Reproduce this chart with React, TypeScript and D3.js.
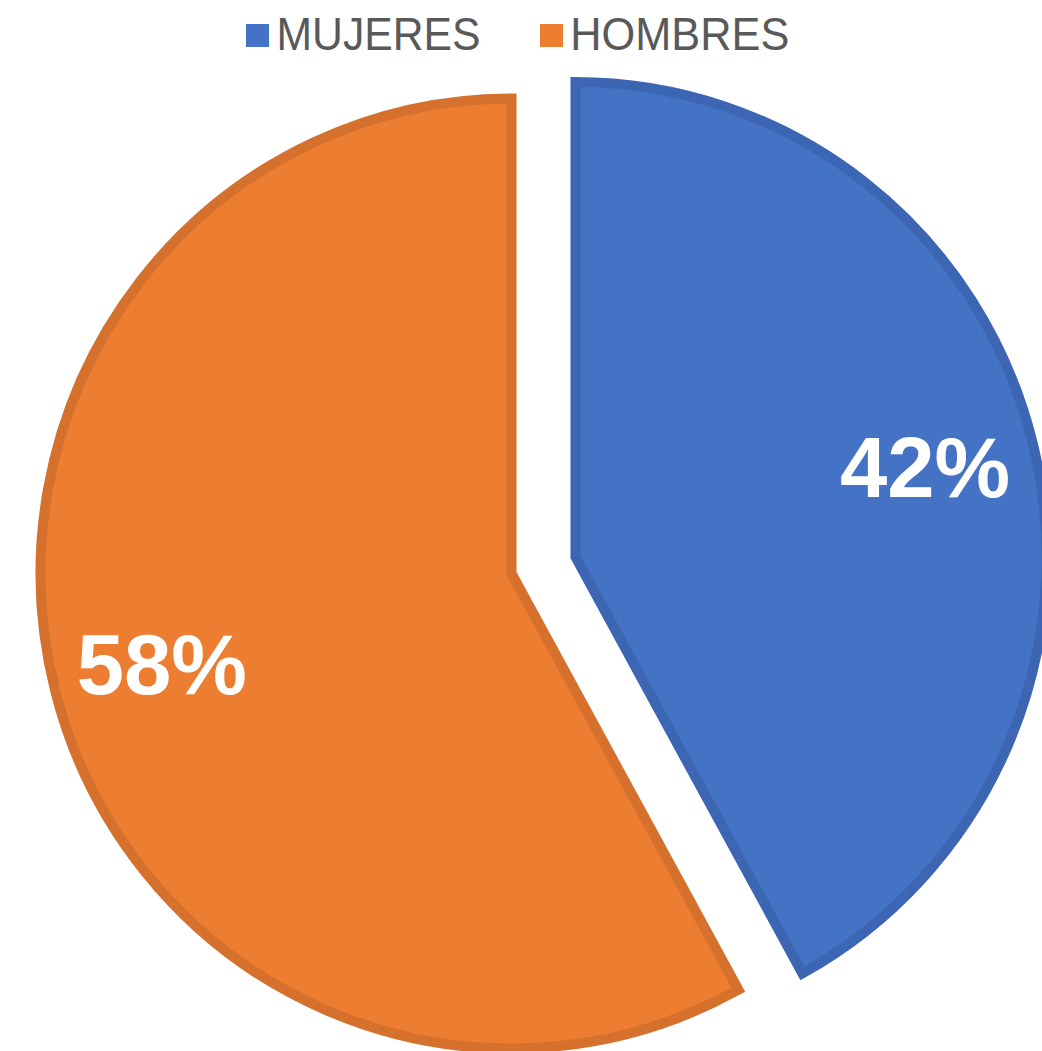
import React from 'react';
import * as d3 from 'd3';

const categories: string[] = ['MUJERES', 'HOMBRES'];
const values: number[] = [42, 58];
const valueLabels: string[] = ['42%', '58%'];
const fillColors: string[] = ['#4472C4', '#ED7D31'];
const strokeColors: string[] = ['#3C66B3', '#D5712C'];

const W = 1042;
const H = 1051;
const CX = 543.5;
const CY = 565.25;
const RX = 471;
const RY = 475;
const EXPLODE = 33;
const LABEL_R = 361;
const FONT = "Arial, 'Liberation Sans', Helvetica, sans-serif";

const legendItems = [
  { sx: 246, tx: 276.5, len: 204 },
  { sx: 540, tx: 570.3, len: 219 },
];

export default function App() {
  const pie = d3.pie<number>().sort(null).value((d) => d);
  const arcs = pie(values);
  const arcGen = d3.arc<d3.PieArcDatum<number>>().innerRadius(0).outerRadius(RX);
  const labelArc = d3
    .arc<d3.PieArcDatum<number>>()
    .innerRadius(LABEL_R)
    .outerRadius(LABEL_R);
  const ky = RY / RX;

  return (
    <svg
      width={W}
      height={H}
      viewBox={`0 0 ${W} ${H}`}
      style={{ position: 'absolute', left: 0, top: 0, background: '#fff' }}
    >
      <rect x={0} y={0} width={W} height={H} fill="#fff" />
      {arcs.map((a, i) => {
        const mid = (a.startAngle + a.endAngle) / 2;
        const cx = CX + EXPLODE * Math.sin(mid);
        const cy = CY - EXPLODE * Math.cos(mid);
        return (
          <g key={categories[i]} transform={`translate(${cx},${cy}) scale(1,${ky})`}>
            <path
              d={arcGen(a) || ''}
              fill={fillColors[i]}
              stroke={strokeColors[i]}
              strokeWidth={10}
              strokeLinejoin="miter"
            />
          </g>
        );
      })}
      {arcs.map((a, i) => {
        const mid = (a.startAngle + a.endAngle) / 2;
        const cx = CX + EXPLODE * Math.sin(mid);
        const cy = CY - EXPLODE * Math.cos(mid);
        const [lx, ly] = labelArc.centroid(a);
        return (
          <text
            key={'lbl' + i}
            x={cx + lx}
            y={cy + ly * ky + 30.5}
            textAnchor="middle"
            fill="#FFFFFF"
            fontFamily={FONT}
            fontWeight="bold"
            fontSize={85}
          >
            {valueLabels[i]}
          </text>
        );
      })}
      {categories.map((c, i) => (
        <g key={'leg' + c}>
          <rect x={legendItems[i].sx} y={24} width={23} height={23} fill={fillColors[i]} />
          <text
            x={legendItems[i].tx}
            y={50}
            fill="#595959"
            fontFamily={FONT}
            fontSize={46}
            textLength={legendItems[i].len}
            lengthAdjust="spacingAndGlyphs"
          >
            {c}
          </text>
        </g>
      ))}
    </svg>
  );
}
